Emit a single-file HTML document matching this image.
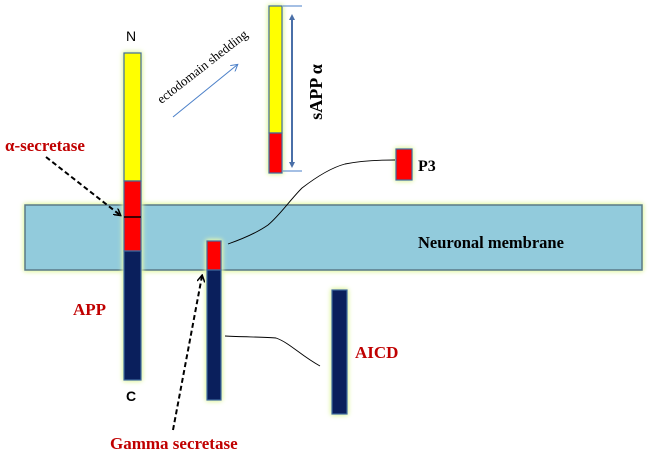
<!DOCTYPE html>
<html><head><meta charset="utf-8"><style>
html,body{margin:0;padding:0;background:#fff;}
svg{display:block;}
.g{filter:drop-shadow(0 0 2px #dff5a0) drop-shadow(0 0 2px #e8f8b8);}
.lab{font-family:"Liberation Serif",serif;font-weight:bold;}
</style></head><body>
<svg width="649" height="456" viewBox="0 0 649 456" xmlns="http://www.w3.org/2000/svg">
<defs>
<marker id="ab" markerWidth="8" markerHeight="8" refX="6" refY="4" orient="auto" markerUnits="userSpaceOnUse"><path d="M0,0 L7,4 L0,8" fill="none" stroke="#000" stroke-width="1.5"/></marker>
<marker id="bl" markerWidth="8" markerHeight="8" refX="6" refY="4" orient="auto" markerUnits="userSpaceOnUse"><path d="M0,0 L7,4 L0,8" fill="none" stroke="#4a7fc8" stroke-width="1"/></marker>
<marker id="bl2" markerWidth="6" markerHeight="6" refX="3" refY="3" orient="auto-start-reverse" markerUnits="userSpaceOnUse"><path d="M0,0 L6,3 L0,6 z" fill="#4a6fa8"/></marker>
</defs>
<rect class="g" x="25" y="205" width="617" height="65" fill="#92cbdc" stroke="#5a7a88" stroke-width="1.5"/>
<g class="g">
<rect x="124" y="53" width="17" height="128" fill="#ffff00" stroke="#3f6aa0" stroke-width="1.2"/>
<rect x="124" y="181" width="17" height="70" fill="#ff0000" stroke="#3f6aa0" stroke-width="1.2"/>
<rect x="124" y="251" width="17" height="129" fill="#0a1f5c" stroke="#3f6aa0" stroke-width="1.2"/>
</g>
<line x1="124" y1="217" x2="141" y2="217" stroke="#000" stroke-width="1.5"/>
<g class="g">
<rect x="269" y="6" width="13" height="127" fill="#ffff00" stroke="#3f6aa0" stroke-width="1.2"/>
<rect x="269" y="133" width="13" height="40" fill="#ff0000" stroke="#3f6aa0" stroke-width="1.2"/>
</g>
<line x1="283" y1="6" x2="302" y2="6" stroke="#4a7fc8" stroke-width="1"/>
<line x1="283" y1="171" x2="302" y2="171" stroke="#4a7fc8" stroke-width="1"/>
<line x1="292" y1="17" x2="292" y2="165" stroke="#4a6fa8" stroke-width="2" marker-start="url(#bl2)" marker-end="url(#bl2)"/>
<rect class="g" x="396" y="149" width="16" height="31" fill="#ff0000" stroke="#3f6aa0" stroke-width="1.2"/>
<g class="g">
<rect x="207" y="241" width="14" height="29" fill="#ff0000" stroke="#3f6aa0" stroke-width="1.2"/>
<rect x="207" y="270" width="14" height="130" fill="#0a1f5c" stroke="#3f6aa0" stroke-width="1.2"/>
</g>
<rect class="g" x="332" y="290" width="15" height="124" fill="#0a1f5c" stroke="#3f6aa0" stroke-width="1.2"/>
<path d="M228,244 C245,238 258,232 268,225 C280,215 290,200 302,188 C315,178 330,168 345,164 C365,160 385,160 395,160" fill="none" stroke="#000" stroke-width="0.9"/>
<path d="M225,336 C245,337 265,337 276,338 C290,343 300,355 320,366" fill="none" stroke="#000" stroke-width="0.9"/>
<line x1="46" y1="157" x2="120" y2="215" stroke="#000" stroke-width="2" stroke-dasharray="5,3" marker-end="url(#ab)"/>
<line x1="173" y1="430" x2="202" y2="276" stroke="#000" stroke-width="2" stroke-dasharray="5,3" marker-end="url(#ab)"/>
<line x1="173" y1="117" x2="237" y2="65" stroke="#4a7fc8" stroke-width="1" marker-end="url(#bl)"/>
<text x="205" y="70" transform="rotate(-38 205 70)" text-anchor="middle" font-family="Liberation Serif,serif" font-size="13" fill="#000">ectodomain shedding</text>
<text x="318" y="92" transform="rotate(-90 318 92)" text-anchor="middle" dominant-baseline="middle" class="lab" font-size="18" fill="#000">sAPP α</text>
<text x="5" y="151" class="lab" font-size="17" fill="#c00000">α-secretase</text>
<text x="73" y="315" class="lab" font-size="17" fill="#c00000">APP</text>
<text x="110" y="449" class="lab" font-size="17" fill="#c00000">Gamma secretase</text>
<text x="355" y="358" class="lab" font-size="17" fill="#c00000">AICD</text>
<text x="418" y="171" class="lab" font-size="16" fill="#000">P3</text>
<text x="418" y="248" class="lab" font-size="16.5" fill="#000">Neuronal membrane</text>
<text x="126" y="41" font-family="Liberation Sans,sans-serif" font-size="14" fill="#000">N</text>
<text x="126" y="401" font-family="Liberation Sans,sans-serif" font-weight="bold" font-size="14" fill="#000">C</text>
</svg>
</body></html>
